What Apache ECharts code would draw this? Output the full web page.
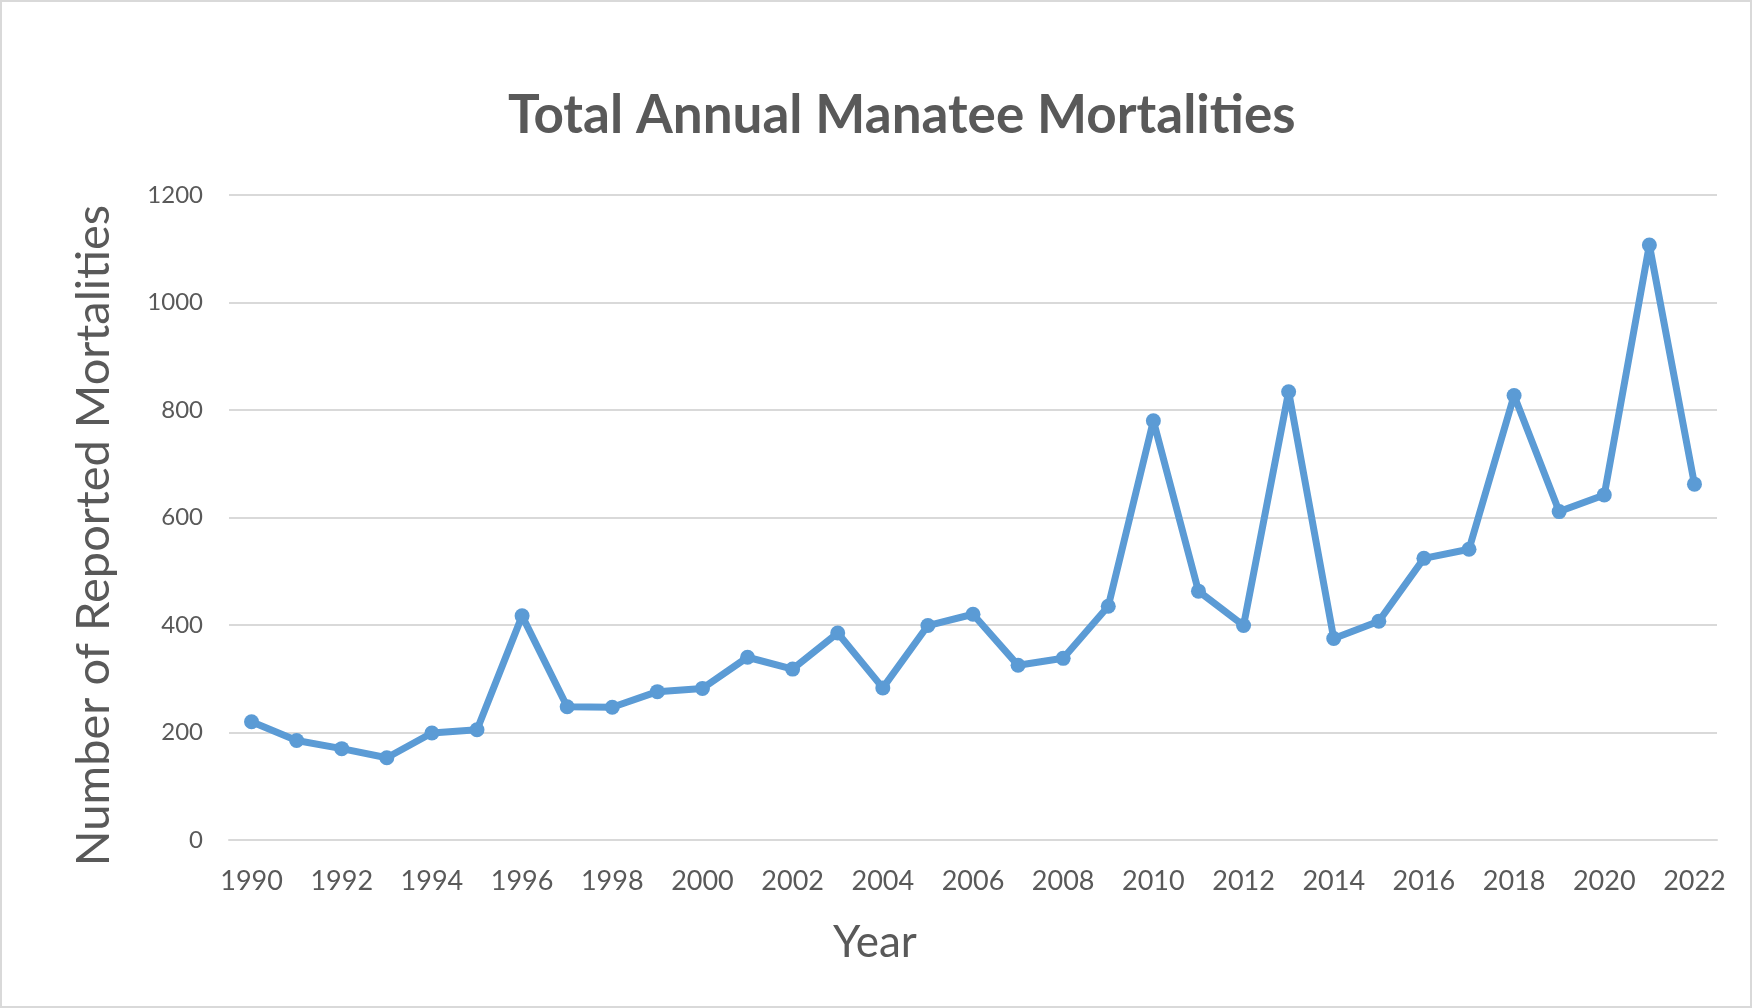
<!DOCTYPE html>
<html>

<head lang="en">
  <meta charset="UTF-8">
  <title>Total Annual Manatee Mortalities</title>
  <script src="https://cdn.jsdelivr.net/npm/echarts@6/dist/echarts.min.js"></script>
  <style>
  html, body {
    margin: 0;
    padding: 0;
    background: #fff;
  }
  #main {
    width: 1752px;
    height: 1008px;
  }
  </style>
</head>

<body>
  <div id="main"></div>
</body>
<script>
var years = [1990, 1991, 1992, 1993, 1994, 1995, 1996, 1997, 1998, 1999, 2000,
  2001, 2002, 2003, 2004, 2005, 2006, 2007, 2008, 2009, 2010, 2011,
  2012, 2013, 2014, 2015, 2016, 2017, 2018, 2019, 2020, 2021, 2022];

var mortalities = [220, 185, 170, 153, 199, 205, 417, 248, 247, 276, 282,
  340, 318, 385, 283, 399, 420, 325, 338, 435, 780, 463,
  399, 834, 375, 407, 524, 541, 827, 611, 642, 1107, 662];

var yTicks = [0, 200, 400, 600, 800, 1000, 1200];

var textColor = '#595959';
var gridColor = '#d9d9d9';
var lineColor = '#5b9bd5';
var font = 'Lato, "Open Sans", sans-serif';

var myChart = echarts.init(document.getElementById('main'));

var option = {
  backgroundColor: '#fff',
  animation: false,
  graphic: [{
    type: 'rect',
    shape: { x: 1, y: 1, width: 1750, height: 1006 },
    style: { fill: 'none', stroke: gridColor, lineWidth: 2 },
    silent: true
  }],
  title: {
    text: 'Total Annual Manatee Mortalities',
    left: 503,
    top: 84,
    textStyle: {
      color: textColor,
      fontFamily: font,
      fontWeight: 'bold',
      fontSize: 53
    }
  },
  grid: {
    left: 229,
    right: 35,
    top: 195,
    bottom: 168
  },
  xAxis: {
    type: 'category',
    data: years,
    boundaryGap: true,
    name: 'Year',
    nameLocation: 'middle',
    nameGap: 81,
    nameTextStyle: {
      color: textColor,
      fontFamily: font,
      fontSize: 44,
      padding: [0, 196, 0, 0]
    },
    axisLine: { show: true, lineStyle: { color: gridColor, width: 2 } },
    axisTick: { show: false },
    axisLabel: {
      interval: 1,
      margin: 28,
      color: textColor,
      fontFamily: font,
      fontSize: 27
    }
  },
  yAxis: {
    type: 'value',
    min: yTicks[0],
    max: yTicks[yTicks.length - 1],
    interval: 200,
    name: 'Number of Reported Mortalities',
    nameLocation: 'middle',
    nameRotate: 90,
    nameGap: 112,
    nameTextStyle: {
      color: textColor,
      fontFamily: font,
      fontSize: 47,
      padding: [0, 36, 0, 0]
    },
    axisLine: { show: false },
    axisTick: { show: false },
    axisLabel: {
      margin: 26,
      color: textColor,
      fontFamily: font,
      fontSize: 24,
      formatter: function (v) { return String(v); }
    },
    splitLine: { lineStyle: { color: gridColor, width: 2 } }
  },
  series: [{
    name: 'Mortalities',
    type: 'line',
    data: mortalities,
    symbol: 'circle',
    symbolSize: 15,
    lineStyle: { color: lineColor, width: 7 },
    itemStyle: { color: lineColor }
  }]
};

myChart.setOption(option);
</script>

</html>
